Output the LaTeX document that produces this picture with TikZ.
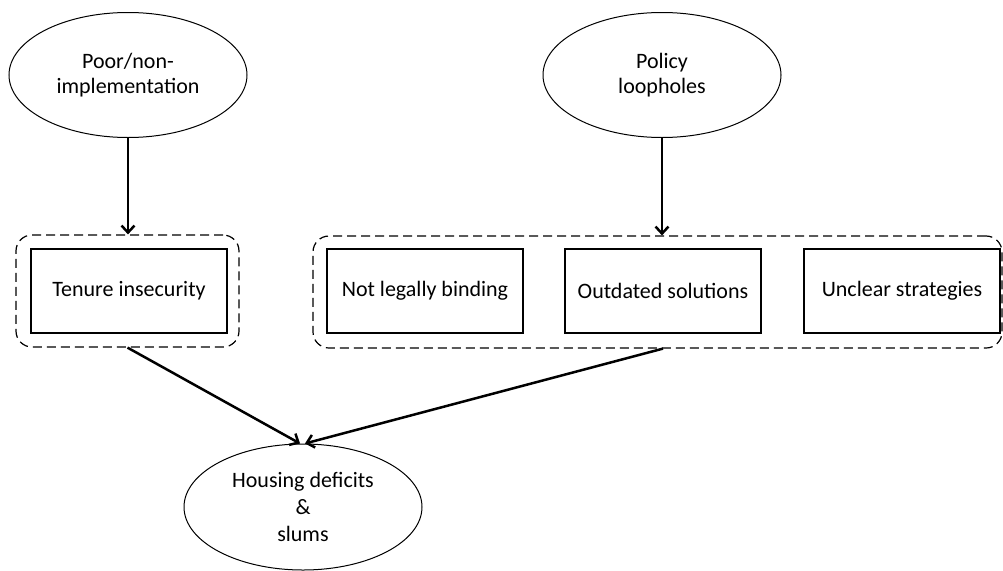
\documentclass[tikz,border=0pt]{standalone}
\usepackage{fontspec}
\setmainfont{Carlito}
\usetikzlibrary{arrows.meta,shapes.geometric}

\newcommand{\Ew}{238pt}   % ellipse size
\newcommand{\Eh}{125pt}
\newcommand{\Bw}{196pt}   % box size
\newcommand{\Bh}{84pt}
\newcommand{\Gh}{112pt}   % dashed group height

\tikzset{
  cause/.style={ellipse,draw,line width=1pt,minimum width=\Ew,minimum height=\Eh,align=center,inner sep=0pt},
  itembox/.style={rectangle,draw,line width=1.2pt,minimum width=\Bw,minimum height=\Bh,inner sep=0pt},
  grpbox/.style={rectangle,draw,line width=1.2pt,dash pattern=on 9pt off 5pt,rounded corners=16pt,minimum height=\Gh,inner sep=0pt},
  arrowline/.style={line width=2.5pt,-{Straight Barb[length=7pt,width=13pt]}}
}

\begin{document}
\begin{tikzpicture}[x=1pt,y=-1pt,font=\fontsize{22}{25}\selectfont]
  \useasboundingbox (0,0) rectangle (1003,570);
%
  % top causes
  \node[cause] (poor)   at (128,75) {Poor/non-\\implementation};
  \node[cause] (policy) at (662,75) {Policy\\loopholes};
  % dashed groups
  \node[grpbox,minimum width=223pt] (grpA) at (127.5,291) {};
  \node[grpbox,minimum width=689pt] (grpB) at (657.5,292) {};
  % boxes
  \node[itembox] (tenure)   at (129,291) {Tenure insecurity};
  \node[itembox] (legal)    at (425,291) {Not legally binding};
  \node[itembox] (outdated) at (663,291) {Outdated solutions};
  \node[itembox] (unclear)  at (902,291) {Unclear strategies};
  % effect
  \node[cause,minimum height=126pt,font=\fontsize{22}{27}\selectfont] (housing) at (303,507) {Housing deficits\\\&\\slums};
%
  \draw[arrowline] (poor.south) -- (poor.south |- grpA.north);
  \draw[arrowline] (policy.south) -- (policy.south |- grpB.north);
  \draw[arrowline] (grpA.south) -- ([xshift=-3pt]housing.north);
  \draw[arrowline] (outdated.south |- grpB.south) -- ([xshift=2pt]housing.north);
\end{tikzpicture}
\end{document}
